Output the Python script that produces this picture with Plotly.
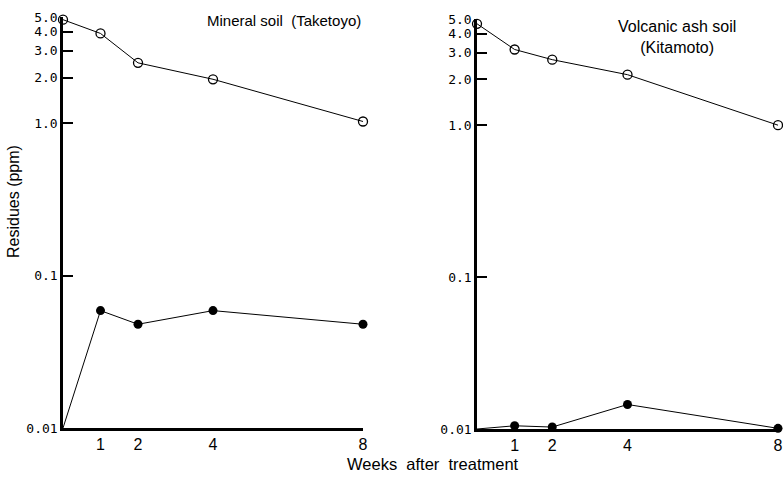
import plotly.graph_objects as go

weeks = [0, 1, 2, 4, 8]
mineral_open = [4.8, 3.9, 2.5, 1.95, 1.03]
mineral_filled = [0.01, 0.059, 0.048, 0.059, 0.048]
volcanic_open = [4.65, 3.15, 2.7, 2.15, 1.0]
volcanic_filled = [0.01, 0.0105, 0.0103, 0.0145, 0.0101]

ytick_vals = [0.01, 0.1, 1.0, 2.0, 3.0, 4.0, 5.0]
ytick_text = ["0.01", "0.1", "1.0", "2.0", "3.0", "4.0", "5.0"]
xtick_vals = [1, 2, 4, 8]
xtick_text = ["1", "2", "4", "8"]

W, H = 783, 477
FONT = "Liberation Sans, Arial"
TICKFONT = "DejaVu Sans Mono, Liberation Mono, monospace"

fig = go.Figure()

def add_panel(xa, ya, opn, fil):
    fig.add_trace(go.Scatter(x=weeks, y=opn, mode="lines+markers", xaxis=xa, yaxis=ya,
                             line=dict(color="black", width=1),
                             marker=dict(symbol="circle-open", size=9, color="black",
                                         line=dict(width=1.3, color="black")),
                             cliponaxis=False, showlegend=False, hoverinfo="skip"))
    fig.add_trace(go.Scatter(x=weeks, y=fil, mode="lines", xaxis=xa, yaxis=ya,
                             line=dict(color="black", width=1),
                             cliponaxis=False, showlegend=False, hoverinfo="skip"))
    fig.add_trace(go.Scatter(x=weeks[1:], y=fil[1:], mode="markers", xaxis=xa, yaxis=ya,
                             marker=dict(symbol="circle", size=9, color="black"),
                             cliponaxis=False, showlegend=False, hoverinfo="skip"))

add_panel("x", "y", mineral_open, mineral_filled)
add_panel("x2", "y2", volcanic_open, volcanic_filled)

def xaxis(domain, anchor):
    return dict(domain=domain, anchor=anchor, range=[0, 8], showline=True, linewidth=2.5,
                linecolor="black", showgrid=False, zeroline=False, ticks="",
                tickvals=xtick_vals, ticktext=xtick_text,
                tickfont=dict(family=FONT, size=16, color="black"))

def yaxis(domain, anchor):
    return dict(domain=domain, anchor=anchor, type="log", range=[-2, 0.699], showline=True,
                linewidth=2.5, linecolor="black", showgrid=False, zeroline=False,
                ticks="inside", ticklen=10, tickwidth=1.5, tickcolor="black",
                tickvals=ytick_vals, ticktext=ytick_text,
                tickfont=dict(family=TICKFONT, size=13, color="black"))

def ann(text, x, y, size=16, **kw):
    return dict(text=text, x=x / W, y=1 - y / H, xref="paper", yref="paper",
                xanchor="center", yanchor="middle", showarrow=False,
                font=dict(size=size, family=FONT, color="black"), **kw)

fig.update_layout(
    width=W, height=H, margin=dict(l=0, r=0, t=0, b=0, autoexpand=False),
    paper_bgcolor="white", plot_bgcolor="white",
    xaxis=xaxis([63 / W, 363 / W], "y"),
    yaxis=yaxis([(H - 428) / H, (H - 17) / H], "x"),
    xaxis2=xaxis([477 / W, 778 / W], "y2"),
    yaxis2=yaxis([(H - 429) / H, (H - 19) / H], "x2"),
    font=dict(family=FONT, color="black"),
    annotations=[
        ann("Mineral soil  (Taketoyo)", 284, 21, size=15),
        ann("Volcanic ash soil<br>(Kitamoto)", 677, 37, size=16),
        ann("Residues (ppm)", 13, 202, size=16, textangle=-90),
        ann("Weeks  after  treatment", 433, 464, size=16.5),
    ],
)

fig.write_html("out.html", config={"displayModeBar": False},
               post_script="document.body.style.margin='0';document.body.style.overflow='hidden';")
